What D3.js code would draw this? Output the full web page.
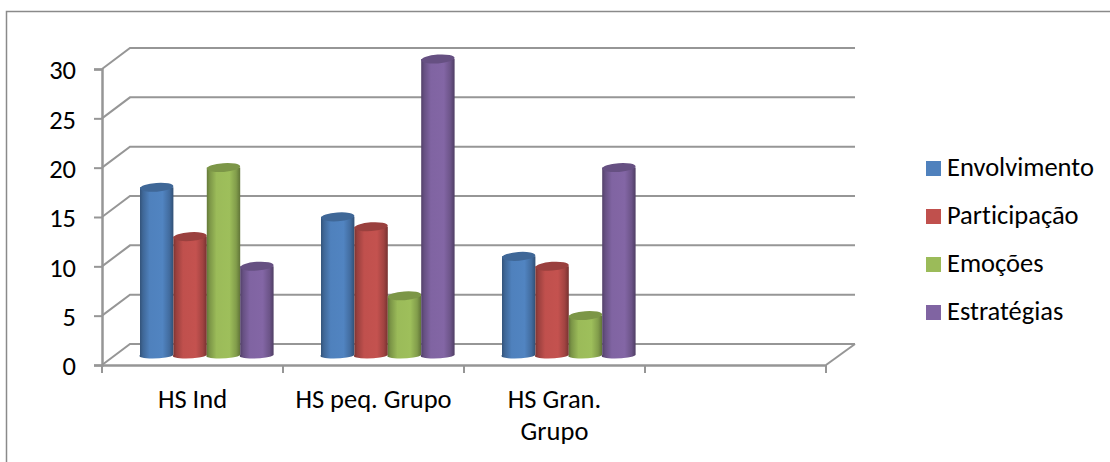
<!DOCTYPE html>
<html>
<head>
<meta charset="utf-8">
<script src="https://cdn.jsdelivr.net/npm/d3@7"></script>
<style>
  body { margin: 0; background: #fff; }
  text { font-family: Carlito, Calibri, Lato, "Open Sans", sans-serif; fill: #000; font-variant-ligatures: none; }
</style>
</head>
<body>
<div id="chart"></div>
<script>
const categories = [["HS Ind"], ["HS peq. Grupo"], ["HS Gran.", "Grupo"], [""]];
const seriesNames = ["Envolvimento", "Participação", "Emoções", "Estratégias"];
const envolvimento = [17, 14, 10];
const participacao = [12, 13, 9];
const emocoes = [19, 6, 4];
const estrategias = [9, 30, 19];
const seriesValues = [envolvimento, participacao, emocoes, estrategias];
const yTicks = [0, 5, 10, 15, 20, 25, 30];
const colors = ["#4F81BD", "#C0504D", "#9BBB59", "#8064A2"];

const width = 1110, height = 462;
const axisGrey = "#969696";
const fontSize = 26.5;
const depthX = 28, depthY = -21;

const svg = d3.select("#chart").append("svg")
    .attr("width", width).attr("height", height)
    .style("display", "block");

// kader (rechts en onder vallen buiten beeld)
svg.append("rect")
    .attr("x", 6.5).attr("y", 11.5)
    .attr("width", 1200).attr("height", 500)
    .attr("fill", "#fff").attr("stroke", "#8a8a8a").attr("stroke-width", 1.5);

const x = d3.scaleBand().domain(d3.range(categories.length)).range([102, 826]);
const y = d3.scaleLinear().domain([0, 30]).range([365, 69]);

// gradienten voor de cilinders
const defs = svg.append("defs");
const shade = (c, k) => { const b = d3.color(c); return d3.rgb(b.r * k, b.g * k, b.b * k); };
colors.forEach((c, i) => {
    const g = defs.append("linearGradient").attr("id", `cyl-${i}`);
    [[0, 0.62], [0.1, 0.8], [0.3, 1.0], [0.68, 1.02], [0.88, 0.84], [1, 0.62]].forEach(([o, k]) => {
        g.append("stop").attr("offset", o).attr("stop-color", shade(c, k));
    });
});

// --- WANDEN EN GRID ---
const grid = svg.append("g").attr("fill", "none").attr("stroke", axisGrey).attr("stroke-width", 2);
yTicks.forEach(t => {
    grid.append("path")
        .attr("d", d3.line()([[x.range()[0], y(t)], [x.range()[0] + depthX, y(t) + depthY], [x.range()[1] + depthX + 1, y(t) + depthY]]));
});
// vloer rechts
grid.append("path").attr("d", d3.line()([[x.range()[1], y(0)], [x.range()[1] + depthX + 1, y(0) + depthY]]));

// --- ASSEN ---
const axisLeft = svg.append("g")
    .attr("transform", `translate(${x.range()[0]},0)`)
    .call(d3.axisLeft(y).tickValues(yTicks).tickSize(8).tickPadding(18));
const axisBottom = svg.append("g")
    .attr("transform", `translate(0,${y(0)})`)
    .call(d3.axisBottom(x).tickSize(0).tickFormat(""));
[axisLeft, axisBottom].forEach(a => {
    a.selectAll("path").attr("stroke", axisGrey).attr("stroke-width", 2.5);
    a.selectAll("line").attr("stroke", axisGrey).attr("stroke-width", 2);
});
axisLeft.selectAll("text").attr("y", 1.5)
    .attr("font-size", fontSize)
    .style("font-family", "Carlito, Calibri, Lato, 'Open Sans', sans-serif");

// tick marks op de grenzen van de categorieën
svg.append("g").selectAll("line")
    .data(d3.range(categories.length + 1))
    .join("line")
    .attr("x1", d => x.range()[0] + d * x.step())
    .attr("x2", d => x.range()[0] + d * x.step())
    .attr("y1", y(0)).attr("y2", y(0) + 8)
    .attr("stroke", axisGrey).attr("stroke-width", 2);

// categorielabels
const labels = svg.append("g").selectAll("text")
    .data(categories)
    .join("text")
    .attr("text-anchor", "middle")
    .attr("font-size", fontSize);
labels.each(function(lines, i) {
    d3.select(this).selectAll("tspan").data(lines).join("tspan")
        .attr("x", x(i) + x.bandwidth() / 2)
        .attr("y", (d, j) => 408 + j * 32)
        .text(d => d);
});

// --- CILINDERS ---
const barW = 33.4;
const barOffsetX = 38;
const floorDy = -10; // hart van de cilinder ligt dieper dan de voorrand
const ry = 4.4;
const ryBottom = 3.4;
const bars = svg.append("g");
seriesValues.forEach((values, s) => {
    const group = bars.append("g");
    values.forEach((v, c) => {
        const x0 = x(c) + barOffsetX + s * barW;
        const top = y(v) + floorDy;
        const bottom = y(0) + floorDy;
        group.append("path")
            .attr("fill", `url(#cyl-${s})`)
            .attr("d", `M${x0},${top} L${x0},${bottom} A${barW / 2},${ryBottom} -3 0 0 ${x0 + barW},${bottom} L${x0 + barW},${top} Z`);
        group.append("ellipse")
            .attr("cx", x0 + barW / 2).attr("cy", top)
            .attr("rx", barW / 2).attr("ry", ry)
            .attr("transform", `rotate(-4 ${x0 + barW / 2} ${top})`)
            .attr("fill", shade(colors[s], 0.8));
    });
});

// --- LEGENDA ---
const legend = svg.append("g").selectAll("g")
    .data(seriesNames)
    .join("g")
    .attr("transform", (d, i) => `translate(926,${161 + i * 48})`);
legend.append("rect")
    .attr("width", 15).attr("height", 15)
    .attr("fill", (d, i) => colors[i]);
legend.append("text")
    .attr("x", 21).attr("y", 15)
    .attr("font-size", fontSize)
    .text(d => d);
</script>
</body>
</html>
